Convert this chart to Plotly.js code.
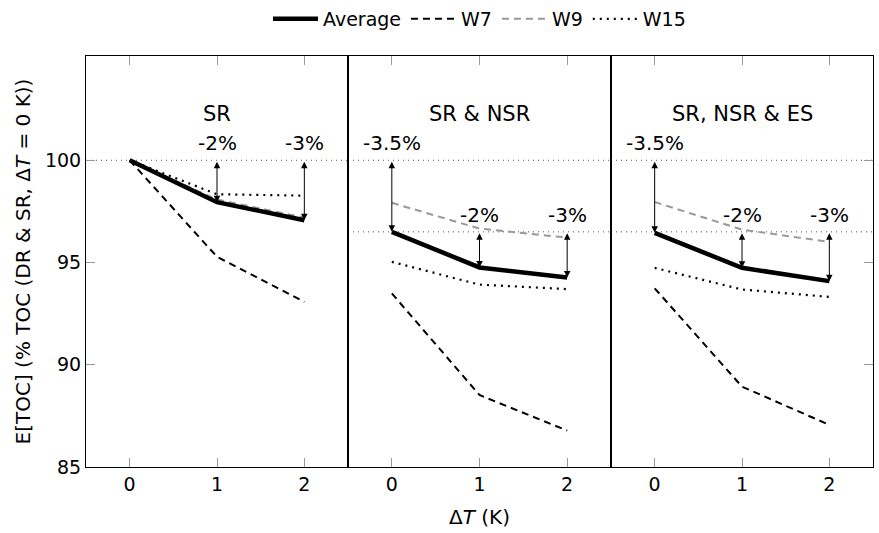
<!DOCTYPE html>
<html>
<head>
<meta charset="utf-8">
<script src="https://cdn.plot.ly/plotly-3.0.1.min.js"></script>
<style>html,body{margin:0;padding:0;background:#fff;}#chart{width:879px;height:533px;}</style>
</head>
<body>
<div id="chart"></div>
<script>
const dT = [0, 1, 2];
const panelTitles = ["SR", "SR & NSR", "SR, NSR & ES"];
const seriesNames = ["Average", "W7", "W9", "W15"];
// values per panel: [SR, SR & NSR, SR, NSR & ES]
const average = [[100, 97.95, 97.07], [96.5, 94.76, 94.27], [96.45, 94.74, 94.09]];
const w7      = [[100, 95.28, 93.08], [93.49, 88.52, 86.78], [93.74, 88.93, 87.06]];
const w9      = [[100, 98.08, 97.2],  [97.92, 96.66, 96.22], [97.96, 96.61, 96.01]];
const w15     = [[100, 98.34, 98.27], [95.03, 93.92, 93.7],  [94.74, 93.68, 93.32]];
// reference levels drawn as dotted lines in each panel
const refLevels = [[100], [100, 96.5], [100, 96.5]];
// arrows: [panel, x, from level, to level, label]
const arrowPanel = [0, 0, 1, 1, 1, 2, 2, 2];
const arrowX     = [1, 2, 0, 1, 2, 0, 1, 2];
const arrowFrom  = [100, 100, 100, 96.5, 96.5, 100, 96.5, 96.5];
const arrowLabel = ["-2%", "-3%", "-3.5%", "-2%", "-3%", "-3.5%", "-2%", "-3%"];

const FONT = "DejaVu Sans, sans-serif";
const styles = [
  {color: "#000", width: 4.5, dash: "solid"},
  {color: "#000", width: 2, dash: "7px,5px"},
  {color: "#999", width: 2, dash: "7px,5px"},
  {color: "#000", width: 2.2, dash: "2px,5px"}
];
const allSeries = [average, w7, w9, w15];

const traces = [];
for (let p = 0; p < 3; p++) {
  const xa = p === 0 ? "x" : "x" + (p + 1);
  const ya = p === 0 ? "y" : "y" + (p + 1);
  [1, 3, 2, 0].forEach(s => {
    traces.push({
      x: dT, y: allSeries[s][p], xaxis: xa, yaxis: ya, type: "scatter", mode: "lines",
      name: seriesNames[s], legendgroup: seriesNames[s], showlegend: p === 0,
      legendrank: s + 1,
      line: {color: styles[s].color, width: styles[s].width, dash: styles[s].dash},
      hoverinfo: "skip"
    });
  });
}

const shapes = [];
refLevels.forEach((levels, p) => {
  const xa = p === 0 ? "x" : "x" + (p + 1);
  const ya = p === 0 ? "y" : "y" + (p + 1);
  levels.forEach(v => {
    shapes.push({type: "line", xref: xa + " domain", yref: ya, x0: 0, x1: 1, y0: v, y1: v,
      line: {color: "#555", width: 1, dash: "1px,4px"}, layer: "below"});
  });
});

const annotations = [];
for (let i = 0; i < arrowPanel.length; i++) {
  const p = arrowPanel[i];
  const xa = p === 0 ? "x" : "x" + (p + 1);
  const ya = p === 0 ? "y" : "y" + (p + 1);
  const toVal = average[p][arrowX[i]];
  annotations.push({
    xref: xa, yref: ya, axref: xa, ayref: ya,
    x: arrowX[i], y: toVal, ax: arrowX[i], ay: arrowFrom[i],
    text: "", showarrow: true, arrowhead: 2, startarrowhead: 2, arrowside: "end+start",
    arrowsize: 1.3, startarrowsize: 1.3, arrowwidth: 1, arrowcolor: "#000"
  });
  annotations.push({
    xref: xa, yref: ya, x: arrowX[i], y: arrowFrom[i], yshift: 3,
    text: arrowLabel[i], showarrow: false, yanchor: "bottom", xanchor: "center",
    font: {family: FONT, size: 20, color: "#000"}
  });
}
panelTitles.forEach((t, p) => {
  const xa = p === 0 ? "x" : "x" + (p + 1);
  const ya = p === 0 ? "y" : "y" + (p + 1);
  annotations.push({
    xref: xa + " domain", yref: ya, x: 0.5, y: 102.25, text: t, showarrow: false,
    yanchor: "middle", xanchor: "center", font: {family: FONT, size: 21, color: "#000"}
  });
});

const d1 = 262 / 787, d2 = 525 / 787;
const xbase = {
  range: [-0.5, 2.5], tickvals: [0, 1, 2], ticktext: ["0", "1", "2"],
  showline: true, linecolor: "#000", linewidth: 1, mirror: "ticks",
  ticks: "inside", ticklen: 9, tickcolor: "#999", tickwidth: 1,
  showgrid: false, zeroline: false, tickfont: {family: FONT, size: 19, color: "#000"}
};
const ybase = {
  range: [85, 105.1], tickvals: [85, 90, 95, 100], showgrid: false, zeroline: false,
  showline: true, linecolor: "#000", linewidth: 1, mirror: true,
  tickcolor: "#999", tickwidth: 1, ticklen: 9,
  tickfont: {family: FONT, size: 19, color: "#000"}
};

const layout = {
  width: 879, height: 533,
  margin: {l: 86, r: 6, t: 56, b: 66},
  paper_bgcolor: "#fff", plot_bgcolor: "#fff",
  showlegend: true,
  legend: {orientation: "h", x: 0.5, xanchor: "center", y: 1, yanchor: "top",
    yref: "container", font: {family: FONT, size: 19, color: "#000"},
    traceorder: "normal", itemwidth: 45, bgcolor: "rgba(0,0,0,0)"},
  xaxis: Object.assign({}, xbase, {domain: [0, d1], anchor: "y"}),
  xaxis2: Object.assign({}, xbase, {domain: [d1, d2], anchor: "y2",
    title: {text: "Δ<i>T</i> (K)", font: {family: FONT, size: 20, color: "#000"}, standoff: 16}}),
  xaxis3: Object.assign({}, xbase, {domain: [d2, 1], anchor: "y3"}),
  yaxis: Object.assign({}, ybase, {anchor: "x", ticks: "inside",
    title: {text: "E[TOC] (% TOC (DR & SR, Δ<i>T</i> = 0 K))", font: {family: FONT, size: 20, color: "#000"}, standoff: 8}}),
  yaxis2: Object.assign({}, ybase, {anchor: "x2", ticks: "", showticklabels: false, matches: "y"}),
  yaxis3: Object.assign({}, ybase, {anchor: "x3", side: "right", ticks: "inside", showticklabels: false, matches: "y"}),
  shapes: shapes,
  annotations: annotations
};

Plotly.newPlot("chart", traces, layout, {displayModeBar: false, staticPlot: true});
</script>
</body>
</html>
